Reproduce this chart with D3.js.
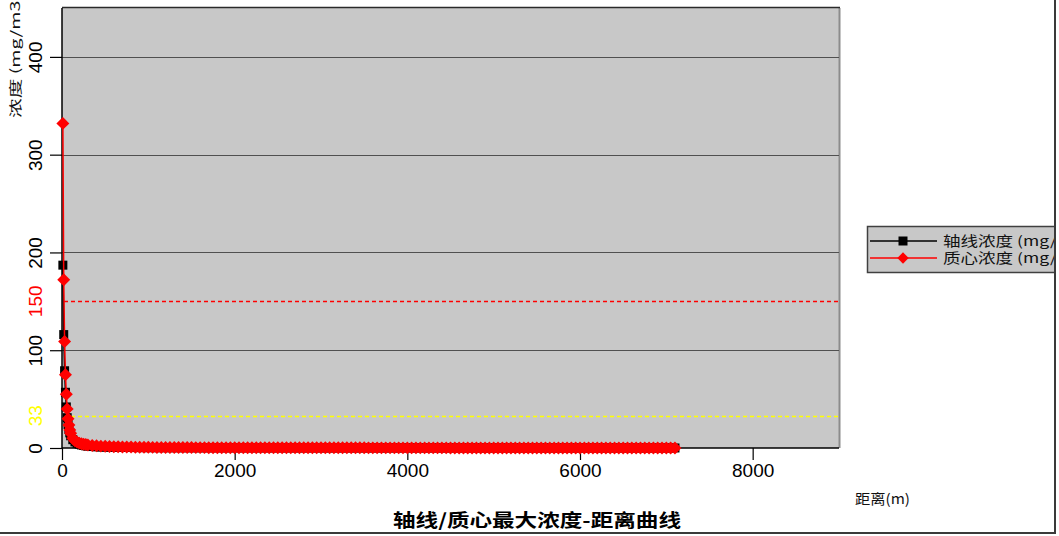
<!DOCTYPE html>
<html><head><meta charset="utf-8">
<script src="https://cdn.jsdelivr.net/npm/d3@7"></script>
<style>
html,body{margin:0;padding:0;background:#fff;}
svg{display:block;}
</style></head>
<body>
<svg id="chart" width="1059" height="536"></svg>
<script>
// ---- data ----
const distances = [10,20,30,40,50,60,70,80,90,100,
  125,150,175,200,225,250,275,300,
  350,400,450,500,550,600,650,700,750,800,850,900,950,1000,
  1050,1100,1150,1200,1250,1300,1350,1400,1450,1500,
  1550,1600,1650,1700,1750,1800,1850,1900,1950,2000,
  2050,2100,2150,2200,2250,2300,2350,2400,2450,2500,
  2550,2600,2650,2700,2750,2800,2850,2900,2950,3000,
  3050,3100,3150,3200,3250,3300,3350,3400,3450,3500,
  3550,3600,3650,3700,3750,3800,3850,3900,3950,4000,
  4050,4100,4150,4200,4250,4300,4350,4400,4450,4500,
  4550,4600,4650,4700,4750,4800,4850,4900,4950,5000,
  5050,5100,5150,5200,5250,5300,5350,5400,5450,5500,
  5550,5600,5650,5700,5750,5800,5850,5900,5950,6000,
  6050,6100,6150,6200,6250,6300,6350,6400,6450,6500,
  6550,6600,6650,6700,6750,6800,6850,6900,6950,7000,
  7050,7100];
const axisConc = [187,116,79,57,42,31,24,19,15.5,12.5,
  8.5,6.2,4.8,3.8,3.1,2.6,2.2,1.9,
  1.5,1.2,1.0,0.88,0.78,0.70,0.63,0.57,0.52,0.48,0.44,0.41,0.38,0.36,
  0.34,0.32,0.30,0.29,0.27,0.26,0.25,0.24,0.23,0.22,
  0.21,0.20,0.19,0.19,0.18,0.17,0.17,0.16,0.16,0.15,
  0.15,0.14,0.14,0.14,0.13,0.13,0.13,0.12,0.12,0.12,
  0.11,0.11,0.11,0.11,0.10,0.10,0.10,0.10,0.10,0.09,
  0.09,0.09,0.09,0.09,0.09,0.08,0.08,0.08,0.08,0.08,
  0.08,0.08,0.07,0.07,0.07,0.07,0.07,0.07,0.07,0.07,
  0.07,0.06,0.06,0.06,0.06,0.06,0.06,0.06,0.06,0.06,
  0.06,0.06,0.05,0.05,0.05,0.05,0.05,0.05,0.05,0.05,
  0.05,0.05,0.05,0.05,0.05,0.05,0.05,0.05,0.04,0.04,
  0.04,0.04,0.04,0.04,0.04,0.04,0.04,0.04,0.04,0.04,
  0.04,0.04,0.04,0.04,0.04,0.04,0.04,0.04,0.04,0.04,
  0.04,0.03,0.03,0.03,0.03,0.03,0.03,0.03,0.03,0.03,
  0.03,0.03];
const centroidConc = [332,172,109,75,55,40,30,23.5,18.5,15,
  10,7.5,6,5,4.4,3.9,3.5,3.1,
  2.6,2.2,1.9,1.7,1.5,1.35,1.2,1.1,1.0,0.92,0.85,0.79,0.74,0.69,
  0.65,0.61,0.58,0.55,0.52,0.50,0.47,0.45,0.43,0.41,
  0.40,0.38,0.37,0.35,0.34,0.33,0.32,0.31,0.30,0.29,
  0.28,0.27,0.27,0.26,0.25,0.25,0.24,0.23,0.23,0.22,
  0.22,0.21,0.21,0.20,0.20,0.19,0.19,0.19,0.18,0.18,
  0.17,0.17,0.17,0.16,0.16,0.16,0.15,0.15,0.15,0.15,
  0.14,0.14,0.14,0.14,0.13,0.13,0.13,0.13,0.12,0.12,
  0.12,0.12,0.12,0.11,0.11,0.11,0.11,0.11,0.11,0.10,
  0.10,0.10,0.10,0.10,0.10,0.10,0.09,0.09,0.09,0.09,
  0.09,0.09,0.09,0.09,0.09,0.08,0.08,0.08,0.08,0.08,
  0.08,0.08,0.08,0.08,0.08,0.07,0.07,0.07,0.07,0.07,
  0.07,0.07,0.07,0.07,0.07,0.07,0.07,0.06,0.06,0.06,
  0.06,0.06,0.06,0.06,0.06,0.06,0.06,0.06,0.06,0.06,
  0.06,0.05];
const xTicks = [0,2000,4000,6000,8000];
const yTicks = [0,100,200,300,400];
const refLines = [
  {value:150, label:"150", color:"#ff0000"},
  {value:33, label:"33", color:"#ffff00"}
];
const seriesNames = ["轴线浓度 (mg/m3)", "质心浓度 (mg/m3)"];
const yTitle = "浓度 (mg/m3)";
const xTitle = "距离(m)";
const chartTitle = "轴线/质心最大浓度-距离曲线";

// ---- drawing ----
(function draw() {
const svg = d3.select("#chart");
const pL = 62, pR = 839, pT = 8, pB = 448;
const x = d3.scaleLinear().domain([0, 9000]).range([pL, pR]);
const y = d3.scaleLinear().domain([0, 450]).range([pB, pT]);
const latin = "'Liberation Sans', Arial, sans-serif";
const cjk = "'Noto Sans CJK SC', 'Liberation Sans', sans-serif";

// plot background
svg.append("rect").attr("x", pL).attr("y", pT).attr("width", pR - pL).attr("height", pB - pT)
  .attr("fill", "#c8c8c8");
svg.append("line").attr("x1", pR + 0.5).attr("x2", pR + 0.5).attr("y1", pT).attr("y2", pB)
  .attr("stroke", "#8c8c8c").attr("stroke-width", 2);
svg.append("line").attr("x1", pL).attr("x2", pR + 1).attr("y1", pT - 0.5).attr("y2", pT - 0.5)
  .attr("stroke", "#2a2a2a").attr("stroke-width", 1.5);

// grid lines
svg.append("g").selectAll("line").data(yTicks.filter(d => d > 0)).join("line")
  .attr("x1", pL).attr("x2", pR)
  .attr("y1", d => Math.round(y(d)) + 0.5).attr("y2", d => Math.round(y(d)) + 0.5)
  .attr("stroke", "#505050").attr("stroke-width", 1);

// reference dashed lines
svg.append("g").selectAll("line").data(refLines).join("line")
  .attr("x1", pL + 2).attr("x2", pR)
  .attr("y1", d => Math.round(y(d.value)) + 0.5).attr("y2", d => Math.round(y(d.value)) + 0.5)
  .attr("stroke", d => d.color).attr("stroke-width", 1.6).attr("stroke-dasharray", "4,3");

// axes
const xAxis = d3.axisBottom(x).tickValues(xTicks).tickSize(12).tickFormat(d3.format("d"));
const gx = svg.append("g").attr("transform", `translate(0,${pB})`).call(xAxis);
gx.select(".domain").attr("stroke", "#000").attr("stroke-width", 1.5).attr("d", `M${pL},0H${pR}`);
gx.selectAll(".tick line").attr("stroke", "#000").attr("stroke-width", 1.2);
gx.selectAll(".tick text").attr("font-family", latin).attr("font-size", 19).attr("fill", "#000")
  .attr("y", 16).attr("dy", "0.71em");

const yAxis = d3.axisLeft(y).tickValues(yTicks).tickSize(12).tickFormat(d3.format("d"));
const gy = svg.append("g").attr("transform", `translate(${pL},0)`).call(yAxis);
gy.select(".domain").attr("stroke", "#000").attr("stroke-width", 1.5).attr("d", `M0,${pT}V${pB}`);
gy.selectAll(".tick line").attr("stroke", "#000").attr("stroke-width", 1.2);
gy.selectAll(".tick text").attr("font-family", latin).attr("font-size", 19).attr("fill", "#000")
  .attr("x", null).attr("dy", null).attr("text-anchor", "middle")
  .attr("transform", `translate(${42 - pL},0) rotate(-90)`);

// extra colored labels on y axis
svg.append("g").selectAll("text").data(refLines).join("text")
  .attr("transform", d => `translate(42,${y(d.value)}) rotate(-90)`)
  .attr("text-anchor", "middle").attr("font-family", latin).attr("font-size", 19)
  .attr("fill", d => d.color).text(d => d.label);

// y title (rotated)
svg.append("text").attr("transform", "translate(20,118) rotate(-90)")
  .attr("font-family", cjk).attr("font-size", 13).attr("fill", "#111")
  .attr("textLength", 124).attr("lengthAdjust", "spacingAndGlyphs").text(yTitle);

// series
const pts = (vals) => distances.map((d, i) => [x(d), y(vals[i])]);
const line = d3.line();
const axisPts = pts(axisConc), cenPts = pts(centroidConc);

svg.append("path").attr("d", line(axisPts)).attr("fill", "none").attr("stroke", "#000").attr("stroke-width", 1.5);
svg.append("g").selectAll("path").data(axisPts).join("path")
  .attr("transform", d => `translate(${d[0]},${d[1]})`)
  .attr("d", d3.symbol(d3.symbolSquare, 81)()).attr("fill", "#000");

svg.append("path").attr("d", line(cenPts)).attr("fill", "none").attr("stroke", "#ff0000").attr("stroke-width", 1.5);
svg.append("g").selectAll("path").data(cenPts).join("path")
  .attr("transform", d => `translate(${d[0]},${d[1]}) rotate(45)`)
  .attr("d", d3.symbol(d3.symbolSquare, 84)()).attr("fill", "#ff0000");

// x title
svg.append("text").attr("x", 855).attr("y", 504).attr("font-family", cjk).attr("font-size", 14)
  .attr("fill", "#111").attr("textLength", 55).attr("lengthAdjust", "spacingAndGlyphs").text(xTitle);

// chart title
svg.append("text").attr("x", 393).attr("y", 527).attr("font-family", cjk).attr("font-size", 18)
  .attr("font-weight", "bold").attr("fill", "#000")
  .attr("textLength", 288).attr("lengthAdjust", "spacingAndGlyphs").text(chartTitle);

// legend (clipped at right frame)
svg.append("clipPath").attr("id", "lgclip").append("rect").attr("x", 0).attr("y", 0).attr("width", 1054).attr("height", 536);
const lg = svg.append("g").attr("clip-path", "url(#lgclip)");
lg.append("rect").attr("x", 867.5).attr("y", 226.5).attr("width", 240).attr("height", 46)
  .attr("fill", "#c8c8c8").attr("stroke", "#404040").attr("stroke-width", 1.5);
const legendItems = [
  {name: seriesNames[0], color: "#000", shape: "square", yy: 241},
  {name: seriesNames[1], color: "#ff0000", shape: "diamond", yy: 258}
];
const li = lg.selectAll("g.item").data(legendItems).join("g").attr("class", "item");
li.append("line").attr("x1", 870).attr("x2", 937).attr("y1", d => d.yy).attr("y2", d => d.yy)
  .attr("stroke", d => d.color).attr("stroke-width", 1.5);
li.append("path").attr("transform", d => `translate(903,${d.yy})` + (d.shape === "diamond" ? " rotate(45)" : ""))
  .attr("d", d => d3.symbol(d3.symbolSquare, d.shape === "diamond" ? 64 : 81)()).attr("fill", d => d.color);
li.append("text").attr("transform", d => `translate(943,${d.yy + 5}) scale(1.3,1)`)
  .attr("font-family", cjk).attr("font-size", 13.5).attr("fill", "#111").text(d => d.name);

// outer frame (right and bottom)
svg.append("line").attr("x1", 1055).attr("x2", 1055).attr("y1", 0).attr("y2", 534)
  .attr("stroke", "#3a3a3a").attr("stroke-width", 2);
svg.append("line").attr("x1", 0).attr("x2", 1056).attr("y1", 533).attr("y2", 533)
  .attr("stroke", "#3a3a3a").attr("stroke-width", 2);
})();
</script>
</body></html>
